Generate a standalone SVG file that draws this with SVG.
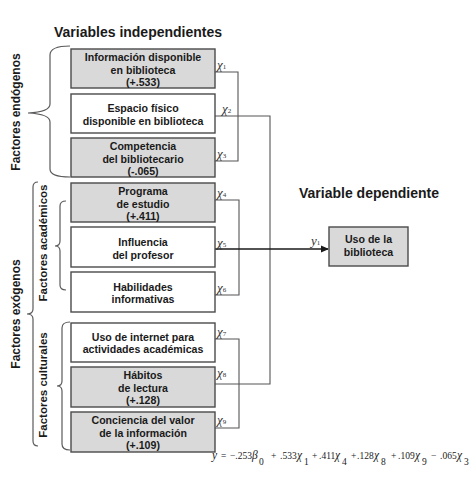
<svg xmlns="http://www.w3.org/2000/svg" width="474" height="489" viewBox="0 0 474 489">
<style>
.box{stroke:#4a4a4a;stroke-width:1.4}
.g{fill:#d9d9d9}
.w{fill:#ffffff}
.t{font-family:"Liberation Sans",Arial,sans-serif;font-weight:bold;font-size:10.6px;fill:#1a1a1a;text-anchor:middle}
.h{font-family:"Liberation Sans",Arial,sans-serif;font-weight:bold;font-size:14px;fill:#1a1a1a}
.v{font-family:"Liberation Sans",Arial,sans-serif;font-weight:bold;font-size:12px;fill:#1a1a1a;text-anchor:middle}
.vi{font-family:"Liberation Sans",Arial,sans-serif;font-weight:bold;font-size:11.5px;fill:#1a1a1a;text-anchor:middle}
.x{font-family:"Liberation Serif","Times New Roman",serif;font-style:italic;font-size:13px;fill:#333}
.s{font-size:7px;font-style:normal}
.eq{font-family:"Liberation Serif","Times New Roman",serif;font-size:9.5px;fill:#222}
.sy{font-style:italic;font-size:11.5px}
.br{fill:none;stroke:#5a5a5a;stroke-width:1.2}
.ln{fill:none;stroke:#555;stroke-width:1.1}
</style>
<defs>
<marker id="arr" markerWidth="8" markerHeight="8" refX="7" refY="4" orient="auto" markerUnits="userSpaceOnUse">
<path d="M0,0.5 L8,4 L0,7.5 Z" fill="#1a1a1a"/>
</marker>
</defs>
<rect width="474" height="489" fill="#ffffff"/>
<text class="h" x="54" y="37">Variables independientes</text>
<text class="h" x="299" y="198">Variable dependiente</text>

<g id="labels-groups">
<text class="v" transform="translate(20,112) rotate(-90)">Factores endógenos</text>
<text class="v" transform="translate(20,314) rotate(-90)">Factores exógenos</text>
<text class="vi" transform="translate(47,243) rotate(-90)">Factores académicos</text>
<text class="vi" transform="translate(47,385) rotate(-90)">Factores culturales</text>
<path class="br" d="M70,46 Q50,46 50,55 V104 Q50,112 28,113 Q50,114 50,122 V169 Q50,177 70,177"/>
<path class="br" d="M38,182 Q33,182 33,187 V309 Q33,314 27,314 Q33,314 33,319 V441 Q33,446 38,446"/>
<path class="br" d="M66,201 Q60,201 60,206 V241 Q60,246 55,246 Q60,246 60,251 V285 Q60,290 66,290"/>
<path class="br" d="M70,322 Q62,322 62,328 V381 Q62,386 57,386 Q62,386 62,391 V444 Q62,450 70,450"/>
</g>

<g id="connectors">
<path class="ln" d="M215,72 H238 V161 H215"/>
<path class="ln" d="M215,116 H270 V384 H215"/>
<path class="ln" d="M215,200 H239 V295 H215"/>
<path class="ln" d="M215,339 H239 V428 H215"/>
<path d="M215,249 H328" fill="none" stroke="#1a1a1a" stroke-width="1.3" marker-end="url(#arr)"/>
<text class="x" x="217" y="69">χ<tspan class="s">1</tspan></text>
<text class="x" x="222" y="113">χ<tspan class="s">2</tspan></text>
<text class="x" x="217" y="158">χ<tspan class="s">3</tspan></text>
<text class="x" x="217" y="197">χ<tspan class="s">4</tspan></text>
<text class="x" x="217" y="247">χ<tspan class="s">5</tspan></text>
<text class="x" x="217" y="292">χ<tspan class="s">6</tspan></text>
<text class="x" x="217" y="336">χ<tspan class="s">7</tspan></text>
<text class="x" x="217" y="377">χ<tspan class="s">8</tspan></text>
<text class="x" x="217" y="424">χ<tspan class="s">9</tspan></text>
<text class="x" x="311" y="245">y<tspan class="s">1</tspan></text>
</g>

<g id="n1"><rect class="box g" x="71" y="49" width="144" height="39"/>
<text class="t" x="143" y="61">Información disponible</text><text class="t" x="143" y="73.5">en biblioteca</text><text class="t" x="143" y="86">(+.533)</text></g>
<g id="n2"><rect class="box w" x="71" y="94" width="144" height="39"/>
<text class="t" x="143" y="112">Espacio físico</text><text class="t" x="143" y="124.5">disponible en biblioteca</text></g>
<g id="n3"><rect class="box g" x="71" y="138" width="144" height="39"/>
<text class="t" x="143" y="150">Competencia</text><text class="t" x="143" y="162.5">del bibliotecario</text><text class="t" x="143" y="175">(-.065)</text></g>
<g id="n4"><rect class="box g" x="71" y="183" width="144" height="39"/>
<text class="t" x="143" y="195">Programa</text><text class="t" x="143" y="207.5">de estudio</text><text class="t" x="143" y="220">(+.411)</text></g>
<g id="n5"><rect class="box w" x="71" y="227" width="144" height="40"/>
<text class="t" x="143" y="246">Influencia</text><text class="t" x="143" y="258.5">del profesor</text></g>
<g id="n6"><rect class="box w" x="71" y="272" width="144" height="40"/>
<text class="t" x="143" y="291">Habilidades</text><text class="t" x="143" y="303">informativas</text></g>
<g id="n7"><rect class="box w" x="71" y="323" width="144" height="39"/>
<text class="t" x="143" y="340.5">Uso de internet para</text><text class="t" x="143" y="353">actividades académicas</text></g>
<g id="n8"><rect class="box g" x="71" y="367" width="144" height="40"/>
<text class="t" x="143" y="379">Hábitos</text><text class="t" x="143" y="392">de lectura</text><text class="t" x="143" y="404">(+.128)</text></g>
<g id="n9"><rect class="box g" x="71" y="412" width="144" height="40"/>
<text class="t" x="143" y="423.5">Conciencia del valor</text><text class="t" x="143" y="436.5">de la información</text><text class="t" x="143" y="449">(+.109)</text></g>
<g id="uso"><rect class="box g" x="329" y="227" width="79" height="39"/>
<text class="t" x="368.5" y="243">Uso de  la</text><text class="t" x="368.5" y="256">biblioteca</text></g>

<g id="equation">
<text class="eq" y="459"><tspan x="212" class="sy">y</tspan><tspan x="221">=</tspan><tspan x="230">−.253</tspan><tspan x="252" class="sy">β</tspan><tspan x="259" dy="6">0</tspan><tspan x="271" dy="-6">+</tspan><tspan x="280">.533</tspan><tspan x="297" class="sy">χ</tspan><tspan x="304" dy="6">1</tspan><tspan x="312" dy="-6">+</tspan><tspan x="319">.411</tspan><tspan x="335" class="sy">χ</tspan><tspan x="342" dy="6">4</tspan><tspan x="351" dy="-6">+</tspan><tspan x="357">.128</tspan><tspan x="374" class="sy">χ</tspan><tspan x="381" dy="6">8</tspan><tspan x="391" dy="-6">+</tspan><tspan x="398">.109</tspan><tspan x="415" class="sy">χ</tspan><tspan x="422" dy="6">9</tspan><tspan x="431" dy="-6">−</tspan><tspan x="440">.065</tspan><tspan x="457" class="sy">χ</tspan><tspan x="464" dy="6">3</tspan></text>
</g>
</svg>
